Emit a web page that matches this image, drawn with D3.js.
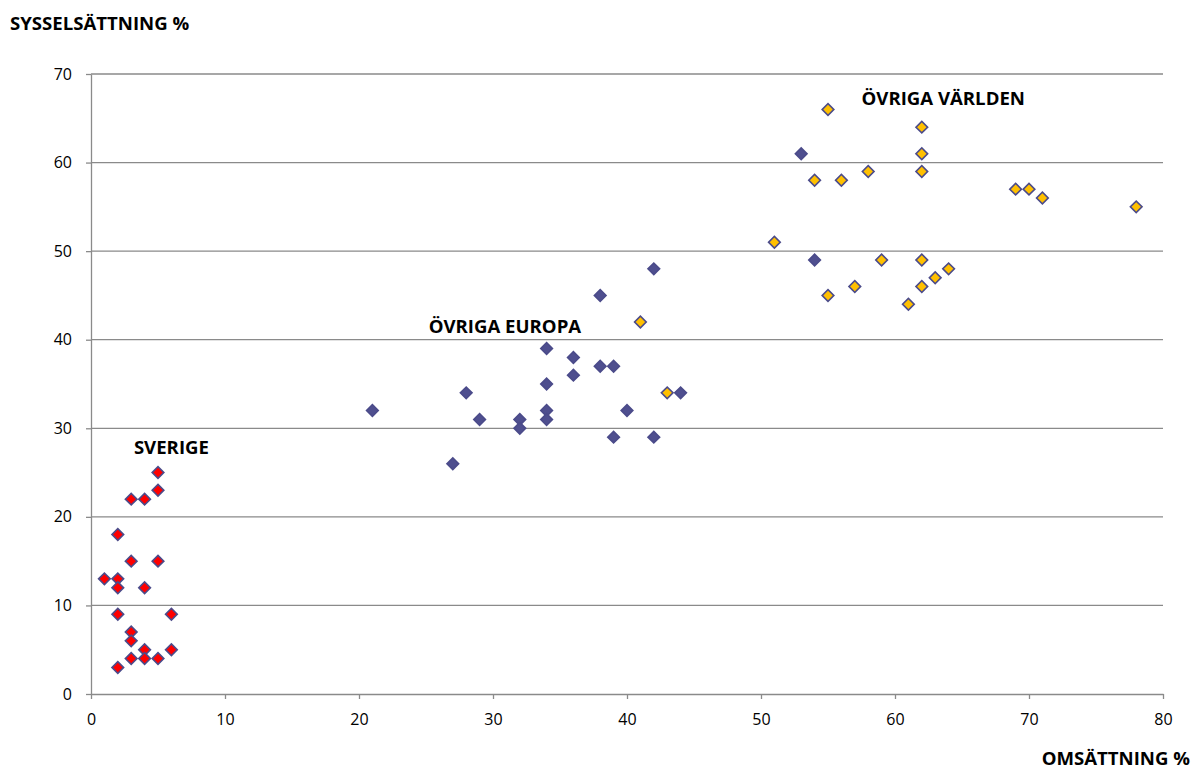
<!DOCTYPE html>
<html><head><meta charset="utf-8">
<script src="https://cdn.jsdelivr.net/npm/d3@7"></script>
<style>
html,body{margin:0;padding:0;background:#fff;}
svg{display:block;}
</style></head>
<body>
<svg id="chart" width="1195" height="771"></svg>
<script>
// Data: [omsättning %, sysselsättning %]
const sverige = [[1,13],[2,13],[2,12],[2,18],[2,9],[2,3],[3,22],[3,15],[3,7],[3,6],[3,4],[4,22],[4,12],[4,5],[4,4],[5,25],[5,23],[5,15],[5,4],[6,9],[6,5]];
const ovrigaEuropa = [[21,32],[27,26],[28,34],[29,31],[32,31],[32,30],[34,39],[34,35],[34,32],[34,31],[36,38],[36,36],[38,45],[38,37],[39,37],[39,29],[40,32],[42,48],[42,29],[44,34],[53,61],[54,49]];
const ovrigaVarlden = [[41,42],[43,34],[51,51],[54,58],[55,66],[55,45],[56,58],[57,46],[58,59],[59,49],[61,44],[62,64],[62,61],[62,59],[62,49],[62,46],[63,47],[64,48],[69,57],[70,57],[71,56],[78,55]];
const xTicks = [0,10,20,30,40,50,60,70,80];
const yTicks = [0,10,20,30,40,50,60,70];
const groupLabels = [
  {text:"SVERIGE", x:3.2, y:27.1},
  {text:"ÖVRIGA EUROPA", x:25.2, y:40.76},
  {text:"ÖVRIGA VÄRLDEN", x:57.5, y:66.53}
];
const xTitle = "OMSÄTTNING %";
const yTitle = "SYSSELSÄTTNING %";

(function(){
const svg = d3.select("#chart");
const pl = 91, pr = 1163, pt = 74, pb = 694;
const x = d3.scaleLinear().domain([0,80]).range([pl,pr]);
const y = d3.scaleLinear().domain([0,70]).range([pb,pt]);
const grid = "#8a8a8a";
const font = "'Open Sans', sans-serif";

// gridlines
svg.append("g").selectAll("line").data(yTicks.filter(d=>d>0)).join("line")
  .attr("x1", pl).attr("x2", pr)
  .attr("y1", d=>y(d)).attr("y2", d=>y(d))
  .attr("stroke", grid).attr("stroke-width", 1.3);

// axes
const yAxis = svg.append("g").attr("transform",`translate(${pl},0)`)
  .call(d3.axisLeft(y).tickValues(yTicks).tickSize(5).tickPadding(14).tickSizeOuter(0));
const xAxis = svg.append("g").attr("transform",`translate(0,${pb})`)
  .call(d3.axisBottom(x).tickValues(xTicks).tickSize(5).tickPadding(15).tickSizeOuter(0));
[xAxis,yAxis].forEach(a=>{
  a.select(".domain").attr("stroke", grid).attr("stroke-width",1.3);
  a.selectAll(".tick line").attr("stroke", grid).attr("stroke-width",1.3);
  a.selectAll(".tick text").attr("fill","#000").style("font-family",font).style("font-size","16px");
});

// markers
const sym = d3.symbol().type(d3.symbolSquare).size(68);
function drawSeries(data, fill){
  svg.append("g").selectAll("path").data(data).join("path")
    .attr("d", sym)
    .attr("transform", d=>`translate(${x(d[0])},${y(d[1])}) rotate(45)`)
    .attr("fill", fill)
    .attr("stroke", "#4b4b8a")
    .attr("stroke-width", 1.6);
}
drawSeries(ovrigaEuropa, "#4f4f8f");
drawSeries(ovrigaVarlden, "#ffc000");
drawSeries(sverige, "#ff0000");

// group labels
svg.append("g").selectAll("text").data(groupLabels).join("text")
  .attr("x", d=>x(d.x)).attr("y", d=>y(d.y))
  .text(d=>d.text)
  .style("font-family",font).style("font-weight","bold").style("font-size","18.6px").attr("fill","#000");

// axis titles
svg.append("text").attr("x",10).attr("y",30).text(yTitle)
  .style("font-family",font).style("font-weight","bold").style("font-size","18.6px");
svg.append("text").attr("x",1190).attr("y",765).attr("text-anchor","end").text(xTitle)
  .style("font-family",font).style("font-weight","bold").style("font-size","18.6px");
})();
</script>
</body></html>
